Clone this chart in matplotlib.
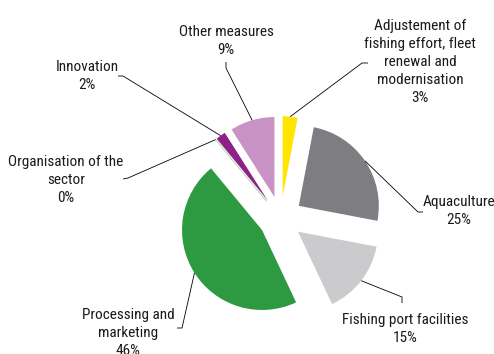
import matplotlib
matplotlib.use("Agg")
import matplotlib.pyplot as plt
import numpy as np

plt.rcParams["font.family"] = ["Roboto Condensed", "Liberation Sans", "DejaVu Sans"]

# Share of funding by measure, clockwise from 12 o'clock.
measures = [
    "Adjustement of\nfishing effort, fleet\nrenewal and\nmodernisation",
    "Aquaculture",
    "Fishing port facilities",
    "Processing and\nmarketing",
    "Organisation of the\nsector",
    "Innovation",
    "Other measures",
]
shares = [3, 25, 15, 46, 0, 2, 9]
colors = ["#FFE500", "#7E7D82", "#CBCBCD", "#2D9A41", "#B5DDB0", "#8E2187", "#C892C5"]

# label anchor (centre of text block) and leader-line elbow / end, pixel space (y down)
label_xy = [(420, 62), (459, 211), (405, 329), (128, 333), (66, 180), (87, 76), (226, 41)]
elbows = [(362, 63), (418, 212), (402, 297), (182, 328), (128, 178), (123, 76), (226, 68)]
tick_ends = [(368, 63), (423, 212), (402, 303), (177, 328), (123, 179), (118, 76), (226, 62)]

W, H = 494, 354
CENTER = (280.6, 218.2)
RADIUS = 80
EXPLODE = 22

fig = plt.figure(figsize=(W / 100, H / 100), dpi=100)
ax = fig.add_axes([0, 0, 1, 1])

# y axis is flipped below, so counterclock in data space reads clockwise on screen
wedges, _ = ax.pie(
    shares,
    colors=colors,
    startangle=-90,
    counterclock=True,
    radius=RADIUS,
    center=CENTER,
    explode=[EXPLODE] * len(shares),
    wedgeprops={"linewidth": 0},
)
# the 0% slice is just a hairline
wedges[4].set_edgecolor(colors[4])
wedges[4].set_linewidth(0.8)

ax.set_xlim(0, W)
ax.set_ylim(H, 0)
ax.set_aspect("equal")
ax.axis("off")

for w, name, share, (tx, ty), (ex, ey), (kx, ky) in zip(
    wedges, measures, shares, label_xy, elbows, tick_ends
):
    mid = np.deg2rad((w.theta1 + w.theta2) / 2)
    cx, cy = w.center
    sx = cx + w.r * np.cos(mid)
    sy = cy + w.r * np.sin(mid)
    ax.plot([sx, ex, kx], [sy, ey, ky], color="black", lw=0.6, solid_capstyle="butt")
    ax.text(tx, ty, f"{name}\n{share}%", ha="center", va="center",
            fontsize=11, linespacing=1.35, color="#1a1a1a")

fig.savefig("out.png", dpi=100)
